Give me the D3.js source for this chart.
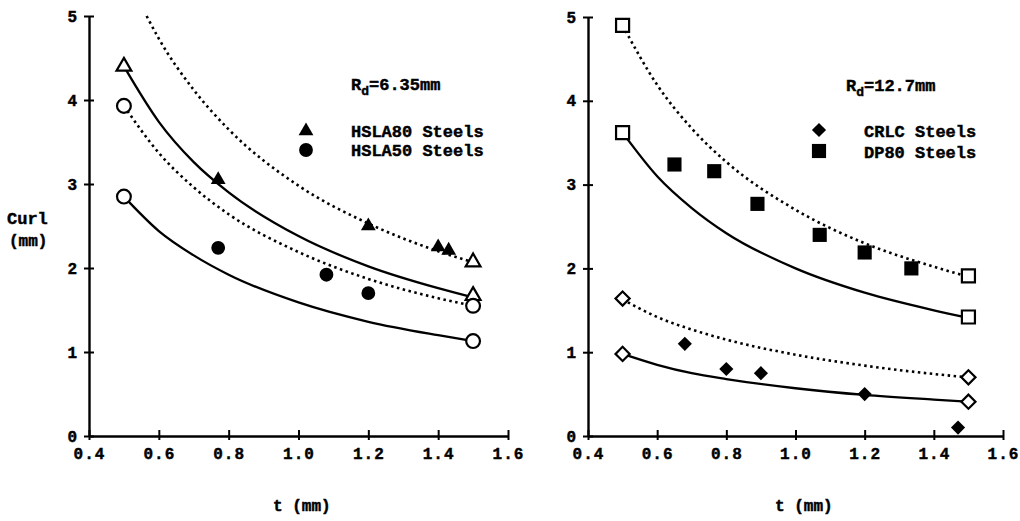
<!DOCTYPE html>
<html>
<head>
<meta charset="utf-8">
<script src="https://cdn.jsdelivr.net/npm/d3@7"></script>
<style>
  body { margin: 0; background: #fff; }
  svg text { font-family: "Liberation Mono", "DejaVu Sans Mono", monospace; font-weight: bold; fill: #000; stroke: #000; stroke-width: 0.45px; }
</style>
</head>
<body>
<svg id="chart" width="1020" height="521"></svg>
<script>
// thickness grid used for the model curves (mm)
const tGrid = [0.5, 0.6, 0.7, 0.8, 1.0, 1.2, 1.4, 1.5];
const tGridTop = [0.565, 0.6, 0.7, 0.8, 1.0, 1.2, 1.4, 1.5];

// left panel, Rd = 6.35 mm
const hsla80Solid = [4.40, 3.74, 3.26, 2.90, 2.38, 2.02, 1.76, 1.65];
const hsla80Dotted = [5.00, 4.73, 4.12, 3.65, 2.98, 2.53, 2.20, 2.07];
const hsla50Dotted = [3.93, 3.37, 2.96, 2.64, 2.19, 1.87, 1.64, 1.55];
const hsla50Solid = [2.85, 2.44, 2.15, 1.92, 1.59, 1.36, 1.20, 1.13];
const hsla80Meas = [[0.77, 3.05], [1.20, 2.50], [1.40, 2.25], [1.43, 2.21]];
const hsla50Meas = [[0.77, 2.24], [1.08, 1.92], [1.20, 1.70]];
const leftOpenTri = [[0.5, 4.40], [1.5, 2.07], [1.5, 1.67]];
const leftOpenCirc = [[0.5, 3.93], [0.5, 2.85], [1.5, 1.55], [1.5, 1.13]];

// right panel, Rd = 12.7 mm
const dp80Dotted = [4.90, 4.19, 3.67, 3.27, 2.70, 2.30, 2.02, 1.90];
const dp80Solid = [3.62, 3.10, 2.72, 2.42, 2.00, 1.71, 1.50, 1.41];
const crlcDotted = [1.63, 1.42, 1.27, 1.15, 0.97, 0.84, 0.74, 0.70];
const crlcSolid = [0.98, 0.85, 0.75, 0.68, 0.57, 0.49, 0.435, 0.41];
const dp80Meas = [[0.65, 3.24], [0.765, 3.16], [0.89, 2.77], [1.07, 2.40], [1.20, 2.19], [1.335, 2.00]];
const crlcMeas = [[0.68, 1.10], [0.80, 0.80], [0.90, 0.75], [1.20, 0.50], [1.47, 0.10]];
const rightOpenSq = [[0.5, 4.90], [0.5, 3.62], [1.5, 1.91], [1.5, 1.42]];
const rightOpenDia = [[0.5, 1.64], [0.5, 0.98], [1.5, 0.70], [1.5, 0.41]];

const xTicks = [0.4, 0.6, 0.8, 1.0, 1.2, 1.4, 1.6];
const yTicks = [0, 1, 2, 3, 4, 5];

const svg = d3.select('#chart');

const sym = {
    tri: d3.symbol().type(d3.symbolTriangle).size(95),
    circ: d3.symbol().type(d3.symbolCircle).size(150),
    sq: d3.symbol().type(d3.symbolSquare).size(200),
    osq: d3.symbol().type(d3.symbolSquare).size(170),
    dia: d3.symbol().type(d3.symbolSquare).size(100)
};

function drawPanel(xr, yr) {
    const x = d3.scaleLinear().domain([0.4, 1.6]).range(xr);
    const y = d3.scaleLinear().domain([0, 5]).range(yr);
    const g = svg.append('g');

    // y axis
    const ya = g.append('g').attr('transform', `translate(${xr[0]},0)`)
        .call(d3.axisLeft(y).tickValues(yTicks).tickFormat(d3.format('d')).tickSizeOuter(0).tickSizeInner(5).tickPadding(6));
    ya.selectAll('.tick line').attr('x1', 5).attr('x2', -5);
    // x axis
    const xa = g.append('g').attr('transform', `translate(0,${yr[0]})`)
        .call(d3.axisBottom(x).tickValues(xTicks).tickFormat(d3.format('.1f')).tickSizeOuter(0).tickSizeInner(4).tickPadding(8));
    xa.selectAll('.tick line').attr('y1', -6).attr('y2', 4);

    [ya, xa].forEach(a => {
        a.select('.domain').attr('stroke', '#000').attr('stroke-width', 2.4);
        a.selectAll('.tick line').attr('stroke', '#000').attr('stroke-width', 2);
        a.selectAll('.tick text').style('font-size', '16px').style('letter-spacing', '1px');
    });
    return { x, y, g };
}

function curve(p, ts, vals, dotted) {
    const line = d3.line().curve(d3.curveMonotoneX).x(d => p.x(d[0])).y(d => p.y(d[1]));
    p.g.append('path')
        .attr('d', line(ts.map((t, i) => [t, vals[i]])))
        .attr('fill', 'none')
        .attr('stroke', '#000')
        .attr('stroke-width', dotted ? 2.6 : 2.3)
        .attr('stroke-dasharray', dotted ? '2.5,3.5' : null);
}

function marks(p, data, shape, filled, rot) {
    p.g.selectAll(null).data(data).enter().append('path')
        .attr('d', sym[shape])
        .attr('transform', d => `translate(${p.x(d[0])},${p.y(d[1])})` + (rot ? ' rotate(45)' : ''))
        .attr('fill', filled ? '#000' : '#fff')
        .attr('stroke', '#000')
        .attr('stroke-width', filled ? 0 : 2.2);
}

function rdLabel(x0, yb, val) {
    const t = svg.append('text').attr('x', x0).attr('y', yb).style('font-size', '17px');
    t.append('tspan').text('R');
    t.append('tspan').attr('dy', 5).style('font-size', '13px').text('d');
    t.append('tspan').attr('dy', -5).text('=' + val + 'mm');
}

// ---- left panel
const L = drawPanel([89, 508], [436, 16]);
curve(L, tGridTop, hsla80Dotted, true);
curve(L, tGrid, hsla80Solid, false);
curve(L, tGrid, hsla50Dotted, true);
curve(L, tGrid, hsla50Solid, false);
marks(L, leftOpenTri, 'tri', false);
marks(L, leftOpenCirc, 'circ', false);
marks(L, hsla80Meas, 'tri', true);
marks(L, hsla50Meas, 'circ', true);

// ---- right panel
const R = drawPanel([588, 1003], [436, 17]);
curve(R, tGrid, dp80Dotted, true);
curve(R, tGrid, dp80Solid, false);
curve(R, tGrid, crlcDotted, true);
curve(R, tGrid, crlcSolid, false);
marks(R, rightOpenSq, 'osq', false);
marks(R, rightOpenDia, 'dia', false, true);
marks(R, dp80Meas, 'sq', true);
marks(R, crlcMeas, 'dia', true, true);

// labels
svg.append('text').attr('x', 7).attr('y', 224).style('font-size', '17px').text('Curl');
svg.append('text').attr('x', 9).attr('y', 246).style('font-size', '16px').text('(mm)');
svg.append('text').attr('x', 273).attr('y', 511).style('font-size', '16px').text('t (mm)');
svg.append('text').attr('x', 775).attr('y', 511).style('font-size', '16px').text('t (mm)');

rdLabel(351, 90, '6.35');
rdLabel(846, 91, '12.7');

// legends
const legL = [['tri', 306, 131, 'HSLA80 Steels', false], ['circ', 306, 150, 'HSLA50 Steels', false]];
legL.forEach(l => {
    svg.append('path').attr('d', sym[l[0]]).attr('transform', `translate(${l[1]},${l[2]})`);
    svg.append('text').attr('x', 351).attr('y', l[2] + 6).style('font-size', '17px').text(l[3]);
});
const legR = [['dia', 819, 130, 'CRLC Steels', true], ['sq', 819, 151, 'DP80 Steels', false]];
legR.forEach(l => {
    svg.append('path').attr('d', sym[l[0]]).attr('transform', `translate(${l[1]},${l[2]})` + (l[4] ? ' rotate(45)' : ''));
    svg.append('text').attr('x', 864).attr('y', l[2] + 7).style('font-size', '17px').text(l[3]);
});
</script>
</body>
</html>
